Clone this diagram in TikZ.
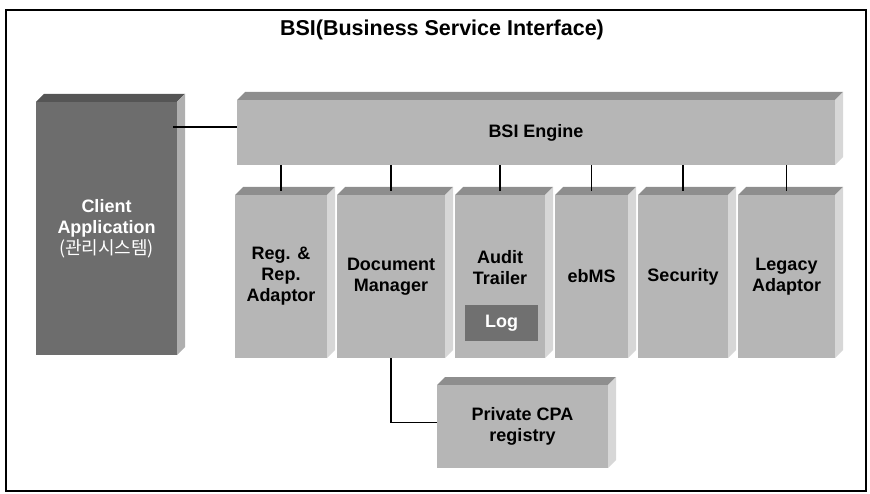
\documentclass[tikz,border=0pt]{standalone}
\usepackage{fontspec}
\setmainfont{Liberation Sans}
\newfontfamily\krfont{Noto Sans CJK KR}
\definecolor{boxgray}{HTML}{B6B6B6}
\definecolor{darkbox}{HTML}{6D6D6D}
\definecolor{loggray}{HTML}{707070}
\def\dd{8}
\tikzset{
  x=1pt, y=-1pt,
  cubefront/.style={inner sep=0pt, outer sep=0pt, align=center, text=black,
    font=\bfseries\fontsize{18}{21}\selectfont},
  lbl/.style={inner sep=0pt, align=center, font=\bfseries\fontsize{18}{21}\selectfont},
  conn/.style={draw=black, line width=1.2pt},
}
% #1 node options, #2 name, #3 x1, #4 y1, #5 x2, #6 y2, #7 colour, #8 text
\newcommand\cubebox[8][]{%
  \fill[#7!78!black] (#3,#4) -- (#3+\dd,#4-\dd) -- (#5+\dd,#4-\dd) -- (#5,#4) -- cycle;
  \fill[#7!55!white] (#5,#4) -- (#5+\dd,#4-\dd) -- (#5+\dd,#6-\dd) -- (#5,#6) -- cycle;
  \node[cubefront, fill=#7, minimum width={(#5-#3)*1pt}, minimum height={(#6-#4)*1pt}, #1]
    (#2) at ({(#3+#5)/2},{(#4+#6)/2}) {#8};
}
\begin{document}
\begin{tikzpicture}
\useasboundingbox (0,0) rectangle (870,494);
\draw[line width=1.4pt] (6,10) rectangle (866,491);
\node[font=\bfseries\fontsize{21.5}{24}\selectfont, inner sep=0pt] (title) at (442,30) {BSI(Business Service Interface)};

\cubebox[text=white]{client}{36}{102}{177}{355}{darkbox}{Client\\Application\\{\krfont\mdseries(관리시스템)}}
\cubebox{engine}{237}{100}{835}{165}{boxgray}{BSI Engine}

\cubebox{reg}{235}{195}{327}{358}{boxgray}{Reg. \&\\Rep.\\Adaptor}
\cubebox{doc}{337}{195}{445}{358}{boxgray}{Document\\Manager}
\cubebox{audit}{455}{195}{545}{358}{boxgray}{}
\cubebox{ebms}{555}{195}{628}{358}{boxgray}{ebMS}
\cubebox{sec}{638}{195}{728}{358}{boxgray}{Security}
\cubebox{legacy}{738}{195}{835}{358}{boxgray}{Legacy\\Adaptor}
\cubebox{cpa}{437}{385}{608}{468}{boxgray}{Private CPA\\registry}

\node[lbl] (audittxt) at (500,268) {Audit\\Trailer};
\node[fill=loggray, minimum width=73pt, minimum height=35pt, inner sep=0pt,
      text=white, font=\bfseries\fontsize{18}{21}\selectfont] (log) at (501.5,323) {Log};

\draw[conn] ([xshift=-4pt,yshift=5.5pt]engine.west -| client.east) -- ([yshift=5.5pt]engine.west);
\foreach \b in {reg,doc,audit,ebms,sec,legacy}{
  \draw[conn] (engine.south -| \b.north) -- ([yshift=4pt]\b.north);
}
\draw[conn] (doc.south) |- ([yshift=4pt]cpa.west);
\end{tikzpicture}
\end{document}
